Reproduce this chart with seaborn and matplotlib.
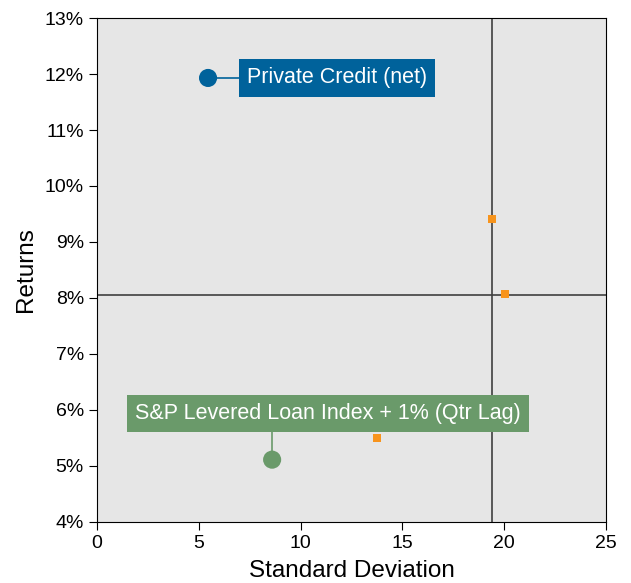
import pandas as pd
import seaborn as sns
import matplotlib.pyplot as plt
from matplotlib.ticker import FuncFormatter

# Data
names = ["Private Credit (net)", "S&P Levered Loan Index + 1% (Qtr Lag)", "Other A", "Other B", "Other C"]
std_dev = [5.45, 8.6, 19.4, 20.05, 13.75]
returns = [11.93, 5.11, 9.41, 8.07, 5.5]
kind = ["main", "bench", "other", "other", "other"]

avg_std = 19.4
avg_ret = 8.05

# label box centres (data units)
main_label_pos = (11.8, 11.93)
bench_label_pos = (11.35, 5.93)

df = pd.DataFrame({"Name": names, "Std": std_dev, "Ret": returns, "Kind": kind})

sns.set_style("ticks")
plt.rcParams['font.family'] = ['Liberation Sans', 'DejaVu Sans']
plt.rcParams['text.color'] = 'black'
plt.rcParams['axes.labelcolor'] = 'black'
plt.rcParams['xtick.color'] = 'black'
plt.rcParams['ytick.color'] = 'black'

fig, ax = plt.subplots(figsize=(6.31, 5.83), dpi=100)
ax.set_facecolor("#e6e6e6")

ax.axvline(avg_std, color="#404040", lw=1.2, zorder=1)
ax.axhline(avg_ret, color="#404040", lw=1.2, zorder=1)

# small orange squares
sns.scatterplot(data=df[df["Kind"] == "other"], x="Std", y="Ret", marker="s", s=30,
                color="#f7941d", edgecolor="none", ax=ax, zorder=3)

blue = "#00629b"
green = "#6a9a6a"

main = df[df["Kind"] == "main"].iloc[0]
bench = df[df["Kind"] == "bench"].iloc[0]
sns.scatterplot(x=[main["Std"]], y=[main["Ret"]], s=170, color=blue, edgecolor="none", ax=ax, zorder=4)
sns.scatterplot(x=[bench["Std"]], y=[bench["Ret"]], s=170, color=green, edgecolor="none", ax=ax, zorder=4)

# connectors
ax.plot([main["Std"], main_label_pos[0]], [main["Ret"], main_label_pos[1]], color=blue, lw=1.2, zorder=3)
ax.plot([bench["Std"], bench["Std"]], [bench["Ret"], bench_label_pos[1]], color=green, lw=1.2, zorder=3)

ax.text(*main_label_pos, main["Name"], ha="center", va="center", fontsize=15.5, color="white",
        bbox=dict(boxstyle="square,pad=0.38", fc=blue, ec="none"), zorder=5)
ax.text(*bench_label_pos, bench["Name"], ha="center", va="center", fontsize=15.5, color="white",
        bbox=dict(boxstyle="square,pad=0.38", fc=green, ec="none"), zorder=5)

ax.set_xlim(0, 25)
ax.set_ylim(4, 13)
ax.set_xticks([0, 5, 10, 15, 20, 25])
ax.set_yticks(range(4, 14))
ax.yaxis.set_major_formatter(FuncFormatter(lambda v, p: f"{int(v)}%"))
ax.tick_params(labelsize=14, length=6, color="black", labelcolor="black")
ax.set_xlabel("Standard Deviation", fontsize=17.5, labelpad=6)
ax.set_ylabel("Returns", fontsize=17.5, labelpad=6)
for s in ax.spines.values():
    s.set_visible(True)
    s.set_color("black")

plt.subplots_adjust(left=0.154, right=0.96, top=0.969, bottom=0.105)
plt.savefig("out.png", dpi=100)
